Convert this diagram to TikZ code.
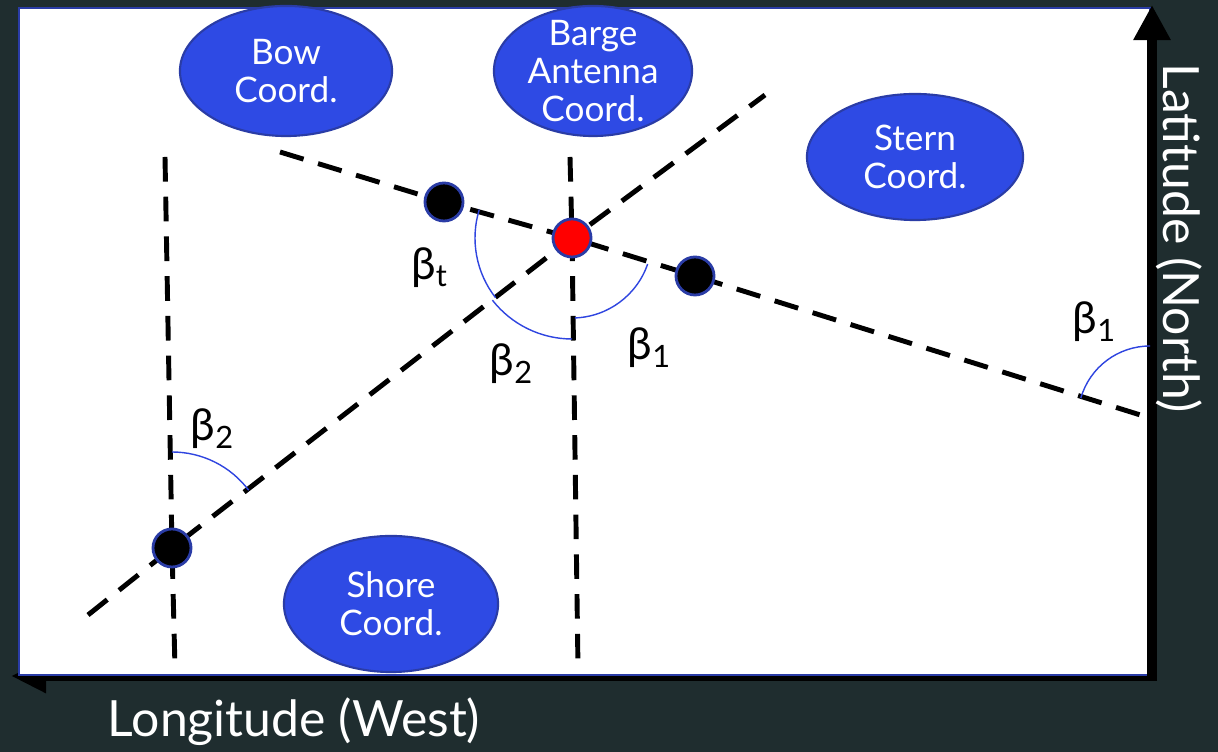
\documentclass[tikz,border=0pt]{standalone}
\usepackage{fontspec}
\setmainfont{Lato}
\usetikzlibrary{
    calc,
    arrows.meta,
    shapes.geometric
}
\definecolor{slate}{HTML}{1F2D2F}
\definecolor{coordblue}{HTML}{2E4AE4}
\definecolor{rimblue}{HTML}{2A3CA6}
\definecolor{arcblue}{HTML}{2F45E0}
\tikzset{
    % blue ellipse with the name of a coordinate
    coordblob/.style={
        ellipse, fill=coordblue, draw=rimblue, line width=0.6pt,
        text=white, align=center, inner sep=-5pt,
        font=\fontsize{10}{10.8}\selectfont
    },
    % position fix, filled with the given colour
    fix/.style={
        circle, fill=#1, draw=rimblue, line width=0.8pt,
        minimum size=0.38cm, inner sep=0pt
    },
    sightline/.style={line width=1.4pt, dash pattern=on 7pt off 4.3pt},
    anglearc/.style={draw=arcblue, line width=0.4pt},
    betalabel/.style={font=\fontsize{12.5}{14}\selectfont},
    axislabel/.style={text=white, font=\fontsize{14.2}{16}\selectfont}
}

\begin{document}
\begin{tikzpicture}[x=0.01cm, y=0.01cm]
    \fill[slate] (0,0) rectangle (1218,752);
    \useasboundingbox (0,0) rectangle (1218,752);

    % axes and the chart area
    \draw[line width=2.6pt, -{Triangle[length=0.35cm, width=0.32cm]}] (1157,76) -- (11,76);
    \draw[rimblue, line width=0.6pt, fill=white] (19,77) rectangle (1150,744);
    \draw[line width=2.8pt, -{Triangle[length=0.35cm, width=0.35cm]}] (1152,71) -- (1152,747);

    \coordinate (pShore) at (172,204);
    \coordinate (pBow) at (444,550);
    \coordinate (pAnt) at (572,514);
    \coordinate (pStern) at (695,476);

    \coordinate (westTop) at (165,595);
    \coordinate (westFoot) at (175,84);
    \coordinate (bargeTop) at (570,595);
    \coordinate (bargeFoot) at (578,84);
    \coordinate (slantLow) at (88,137);
    \coordinate (slantHigh) at (765,657);
    \coordinate (bearStart) at (280,600);
    \coordinate (bearEnd) at (1150,334);

    \draw[sightline] (westTop) -- (pShore) -- (westFoot);
    \draw[sightline] (bargeTop) -- (pAnt) -- (bargeFoot);
    \draw[sightline] (slantLow) -- (pShore) -- (pAnt) -- (slantHigh);
    \draw[sightline] (bearStart) -- (pBow) -- (pAnt) -- (pStern) -- (bearEnd);

    % bearing angles
    \draw[anglearc] ([shift={(163:97)}]pAnt) arc[start angle=163, end angle=218, radius=97];
    \draw[anglearc] ([shift={(218:101)}]pAnt) arc[start angle=218, end angle=270, radius=101];
    \draw[anglearc] ([shift={(272:80)}]pAnt) arc[start angle=272, end angle=341, radius=80];
    \draw[anglearc] ([shift={(90:96)}]pShore) arc[start angle=90, end angle=37, radius=96];
    \draw[anglearc] ([shift={(90:72)}]bearEnd) arc[start angle=90, end angle=164, radius=72];

    \foreach \p/\c in {pShore/black, pBow/black, pAnt/red, pStern/black} {
        \node[fix=\c] (\p-dot) at (\p) {};
    }

    \node[coordblob, minimum width=2.12cm, minimum height=1.30cm] (bow) at (286,681) {Bow\\Coord.};
    \node[coordblob, minimum width=1.98cm, minimum height=1.30cm] (barge) at (593,681) {Barge\\Antenna\\Coord.};
    \node[coordblob, minimum width=2.16cm, minimum height=1.26cm] (stern) at (915,595) {Stern\\Coord.};
    \node[coordblob, minimum width=2.14cm, minimum height=1.36cm] (shore) at (391,148) {Shore\\Coord.};

    \node[betalabel] (betaT) at (430,484) {β\textsubscript{t}};
    \node[betalabel] (betaTwoMid) at (512,388) {β\textsubscript{2}};
    \node[betalabel] (betaOneMid) at (650,404) {β\textsubscript{1}};
    \node[betalabel] (betaTwoLeft) at (213,323) {β\textsubscript{2}};
    \node[betalabel] (betaOneRight) at (1095,430) {β\textsubscript{1}};

    \node[axislabel, anchor=base] (lonLabel) at (294,15) {Longitude (West)};
    \node[axislabel, rotate=-90, anchor=base] (latLabel) at (1163,514) {Latitude (North)};
\end{tikzpicture}
\end{document}
